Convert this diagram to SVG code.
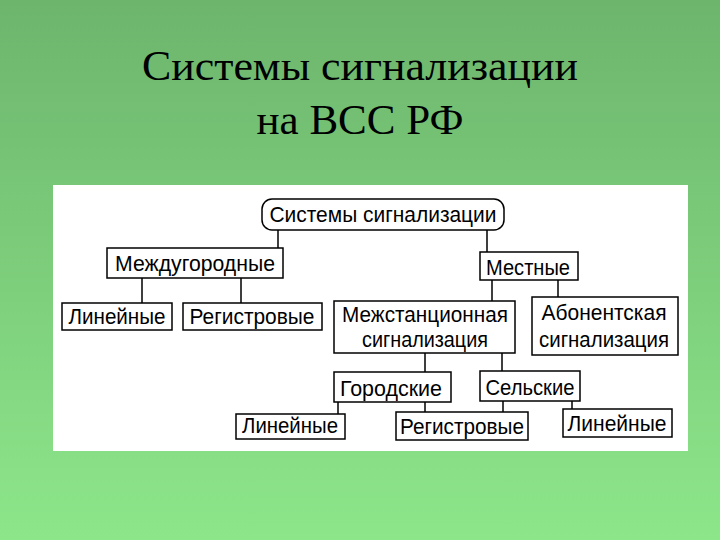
<svg xmlns="http://www.w3.org/2000/svg" width="720" height="540" viewBox="0 0 720 540">
<defs>
<linearGradient id="bg" x1="0" y1="0" x2="0" y2="1">
<stop offset="0" stop-color="#6db56d"/>
<stop offset="1" stop-color="#8de68a"/>
</linearGradient>
<style>
.box{fill:#fff;stroke:#000;stroke-width:1.5}
.t{font-family:"Liberation Sans",Arial,sans-serif;font-size:22px;fill:#000;text-anchor:middle}
.title{font-family:"Liberation Serif","Times New Roman",serif;font-size:42px;fill:#000;text-anchor:middle}
.c{stroke:#000;stroke-width:1.5;fill:none}
</style>
</defs>
<rect width="720" height="540" fill="url(#bg)"/>
<text class="title" x="360" y="80" textLength="436" lengthAdjust="spacingAndGlyphs">Системы сигнализации</text>
<text class="title" x="360" y="134" textLength="207" lengthAdjust="spacingAndGlyphs">на ВСС РФ</text>
<rect x="53" y="185" width="635" height="266" fill="#fff"/>
<g id="connectors">
<path class="c" d="M278 230V248M487 230V252M142 278V303M241 278V303M492 280V301M558 280V297M425 353V372M502 353V371M338 402V414M425 402V412M503 401V412M572 401V409"/>
</g>
<g id="root"><rect class="box" x="262" y="199" width="242" height="31" rx="10"/><text class="t" x="383" y="222" textLength="227" lengthAdjust="spacingAndGlyphs">Системы сигнализации</text></g>
<g id="mezhdugorodnye"><rect class="box" x="107" y="248" width="176" height="30"/><text class="t" x="195" y="271" textLength="160" lengthAdjust="spacingAndGlyphs">Междугородные</text></g>
<g id="lin1"><rect class="box" x="62" y="303" width="110" height="27"/><text class="t" x="117" y="324" textLength="97" lengthAdjust="spacingAndGlyphs">Линейные</text></g>
<g id="reg1"><rect class="box" x="183" y="303" width="139" height="27"/><text class="t" x="252" y="324" textLength="125" lengthAdjust="spacingAndGlyphs">Регистровые</text></g>
<g id="mestnye"><rect class="box" x="480" y="252" width="98" height="28"/><text class="t" x="528" y="275" textLength="84" lengthAdjust="spacingAndGlyphs">Местные</text></g>
<g id="mezhstanc"><rect class="box" x="334" y="301" width="181" height="52"/><text class="t" x="425" y="322" textLength="166" lengthAdjust="spacingAndGlyphs">Межстанционная</text><text class="t" x="425" y="347" textLength="126" lengthAdjust="spacingAndGlyphs">сигнализация</text></g>
<g id="abonent"><rect class="box" x="532" y="297" width="146" height="58"/><text class="t" x="604" y="320" textLength="125" lengthAdjust="spacingAndGlyphs">Абонентская</text><text class="t" x="604" y="347" textLength="130" lengthAdjust="spacingAndGlyphs">сигнализация</text></g>
<g id="gorodskie"><rect class="box" x="334" y="372" width="117" height="30"/><text class="t" x="391" y="396" textLength="102" lengthAdjust="spacingAndGlyphs">Городские</text></g>
<g id="selskie"><rect class="box" x="480" y="371" width="100" height="30"/><text class="t" x="530" y="395" textLength="89" lengthAdjust="spacingAndGlyphs">Сельские</text></g>
<g id="lin2"><rect class="box" x="236" y="414" width="109" height="25"/><text class="t" x="290" y="433" textLength="96" lengthAdjust="spacingAndGlyphs">Линейные</text></g>
<g id="reg2"><rect class="box" x="396" y="412" width="132" height="28"/><text class="t" x="462" y="434" textLength="124" lengthAdjust="spacingAndGlyphs">Регистровые</text></g>
<g id="lin3"><rect class="box" x="563" y="409" width="109" height="28"/><text class="t" x="617" y="431" textLength="99" lengthAdjust="spacingAndGlyphs">Линейные</text></g>
</svg>
